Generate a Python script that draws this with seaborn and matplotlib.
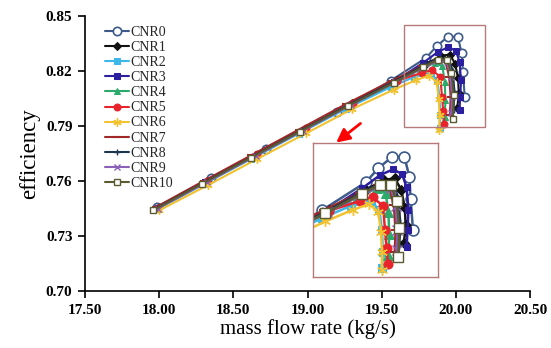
import matplotlib
matplotlib.use("Agg")
import matplotlib.pyplot as plt
import seaborn as sns
from matplotlib.patches import Rectangle, FancyArrowPatch

sns.set_theme(style="white")
plt.rcParams['font.family'] = ['Liberation Serif', 'DejaVu Serif']

names = ["CNR0", "CNR1", "CNR2", "CNR3", "CNR4", "CNR5", "CNR6", "CNR7", "CNR8", "CNR9", "CNR10"]

x_cnr0 = [17.985, 18.35, 18.72, 19.196, 19.56, 19.80, 19.87, 19.946, 20.013, 20.04, 20.047, 20.06]
y_cnr0 = [0.7458, 0.7618, 0.7775, 0.7975, 0.8147, 0.8272, 0.8335, 0.8387, 0.8387, 0.8297, 0.8197, 0.8060]

x_cnr1 = [17.99, 18.32, 18.65, 18.98, 19.30, 19.60, 19.80, 19.90, 19.96, 19.995, 20.015, 20.02, 20.01]
y_cnr1 = [0.7455, 0.7598, 0.7742, 0.7885, 0.8024, 0.8150, 0.8238, 0.8283, 0.8290, 0.8240, 0.8160, 0.8080, 0.8000]

x_cnr2 = [17.995, 18.30, 18.62, 18.94, 19.26, 19.56, 19.72, 19.83, 19.875, 19.89, 19.895, 19.89]
y_cnr2 = [0.7448, 0.7582, 0.7720, 0.7858, 0.7994, 0.8112, 0.8168, 0.8188, 0.8150, 0.8060, 0.7960, 0.7890]

x_cnr3 = [17.99, 18.31, 18.63, 18.95, 19.27, 19.58, 19.78, 19.88, 19.95, 20.00, 20.025, 20.035, 20.03, 20.025]
y_cnr3 = [0.7452, 0.7593, 0.7732, 0.7870, 0.8010, 0.8140, 0.8245, 0.8305, 0.8330, 0.8310, 0.8250, 0.8150, 0.8060, 0.7985]

x_cnr4 = [17.99, 18.31, 18.64, 18.96, 19.28, 19.58, 19.76, 19.86, 19.91, 19.925, 19.93, 19.925]
y_cnr4 = [0.7452, 0.7592, 0.7735, 0.7872, 0.8010, 0.8132, 0.8210, 0.8245, 0.8225, 0.8140, 0.8040, 0.7950]

x_cnr5 = [17.99, 18.32, 18.66, 18.99, 19.31, 19.60, 19.77, 19.84, 19.895, 19.907, 19.915, 19.923]
y_cnr5 = [0.7454, 0.7598, 0.7745, 0.7888, 0.8027, 0.8145, 0.8190, 0.8205, 0.8168, 0.8060, 0.7980, 0.7910]

x_cnr6 = [18.0, 18.33, 18.66, 18.99, 19.30, 19.58, 19.73, 19.82, 19.87, 19.885, 19.89, 19.888]
y_cnr6 = [0.7440, 0.7578, 0.7720, 0.7860, 0.7992, 0.8098, 0.8150, 0.8175, 0.8140, 0.8050, 0.7960, 0.7880]

x_cnr7 = [17.98, 18.30, 18.62, 18.94, 19.26, 19.57, 19.77, 19.87, 19.93, 19.955, 19.965, 19.96]
y_cnr7 = [0.7458, 0.7600, 0.7740, 0.7880, 0.8020, 0.8148, 0.8225, 0.8260, 0.8250, 0.8170, 0.8060, 0.7960]

x_cnr8 = [17.985, 18.31, 18.64, 18.96, 19.28, 19.59, 19.79, 19.89, 19.95, 19.98, 19.99, 19.985]
y_cnr8 = [0.7453, 0.7595, 0.7738, 0.7877, 0.8016, 0.8145, 0.8232, 0.8272, 0.8270, 0.8200, 0.8090, 0.7990]

x_cnr9 = [17.99, 18.32, 18.65, 18.97, 19.29, 19.59, 19.78, 19.88, 19.94, 19.965, 19.975, 19.97]
y_cnr9 = [0.7450, 0.7593, 0.7737, 0.7875, 0.8013, 0.8138, 0.8218, 0.8255, 0.8248, 0.8165, 0.8060, 0.7970]

x_cnr10 = [17.958, 18.29, 18.62, 18.95, 19.27, 19.58, 19.78, 19.88, 19.94, 19.97, 19.985, 19.98]
y_cnr10 = [0.7440, 0.7585, 0.7728, 0.7870, 0.8008, 0.8135, 0.8222, 0.8262, 0.8262, 0.8190, 0.8070, 0.7940]

xs = [x_cnr0, x_cnr1, x_cnr2, x_cnr3, x_cnr4, x_cnr5, x_cnr6, x_cnr7, x_cnr8, x_cnr9, x_cnr10]
ys = [y_cnr0, y_cnr1, y_cnr2, y_cnr3, y_cnr4, y_cnr5, y_cnr6, y_cnr7, y_cnr8, y_cnr9, y_cnr10]

x_ticks = [17.50, 18.00, 18.50, 19.00, 19.50, 20.00, 20.50]
y_ticks = [0.70, 0.73, 0.76, 0.79, 0.82, 0.85]

colors = ['#3D5A8A', '#111111', '#3DB7E8', '#2B1FA0', '#2DAA6B', '#E8232B',
          '#F2C230', '#A02828', '#1E3550', '#8A60B8', '#5B5A30']
asterisk = (6, 2, 0)
styles = [
    dict(marker='o', markersize=6, markerfacecolor='white', markeredgewidth=1.2),
    dict(marker='D', markersize=4),
    dict(marker='s', markersize=4.5),
    dict(marker='s', markersize=3.8),
    dict(marker='^', markersize=5),
    dict(marker='o', markersize=5),
    dict(marker=asterisk, markersize=6, markeredgewidth=1),
    dict(marker='_', markersize=6, markeredgewidth=1.5),
    dict(marker='+', markersize=4.5, markeredgewidth=1),
    dict(marker='x', markersize=5, markeredgewidth=1),
    dict(marker='s', markersize=5, markerfacecolor='white', markeredgewidth=1),
]

W, H = 551, 348
fig = plt.figure(figsize=(W / 100, H / 100), dpi=100)
ax = fig.add_axes([85 / W, 1 - 291 / H, (530 - 85) / W, (291 - 16) / H])


def draw(axis, with_label, scale, lw):
    for i in range(len(names)):
        st = dict(styles[i])
        st['markersize'] = st['markersize'] * scale
        st.setdefault('markeredgecolor', colors[i])
        st.setdefault('markerfacecolor', colors[i])
        sns.lineplot(x=xs[i], y=ys[i], sort=False, estimator=None, color=colors[i],
                     linewidth=lw, label=names[i] if with_label else None,
                     legend=False, ax=axis, **st)


draw(ax, True, 1.0, 1.5)
ax.set_xlim(17.5, 20.5)
ax.set_ylim(0.70, 0.85)
ax.set_xticks(x_ticks)
ax.set_yticks(y_ticks)
ax.set_xticklabels([f"{v:.2f}" for v in x_ticks], fontweight='bold', fontsize=11)
ax.set_yticklabels([f"{v:.2f}" for v in y_ticks], fontweight='bold', fontsize=11)
for s in ['top', 'right']:
    ax.spines[s].set_visible(False)
for s in ['left', 'bottom']:
    ax.spines[s].set_color('black')
    ax.spines[s].set_linewidth(1.2)
ax.tick_params(axis='both', direction='out', length=5, width=1.2, color='black',
               left=True, bottom=True, pad=4, labelcolor='black')
ax.set_xlabel("mass flow rate (kg/s)", fontsize=15, labelpad=2, color='black')
ax.set_ylabel("efficiency", fontsize=16.5, labelpad=4, color='black')

leg = ax.legend(loc='upper left', bbox_to_anchor=(105 / W, 1 - 26 / H),
                bbox_transform=fig.transFigure, frameon=False, fontsize=10,
                labelspacing=0.15, handlelength=1.7, handletextpad=0.15,
                borderpad=0, borderaxespad=0)

# highlight box around the choke region
ax.add_patch(Rectangle((19.65, 0.7895), 0.545, 0.0556, fill=False,
                       edgecolor='#B77A7A', linewidth=1, clip_on=False, zorder=5))

# magnified inset
ins = fig.add_axes([313 / W, 1 - 277 / H, 125 / W, 134 / H])
draw(ins, False, 1.3, 1.8)
ins.set_xlim(19.512, 20.197)
ins.set_ylim(0.785, 0.8448)
ins.set_xticks([])
ins.set_yticks([])
ins.set_xlabel('')
ins.set_ylabel('')
for s in ins.spines.values():
    s.set_visible(True)
    s.set_color('#B77A7A')
    s.set_linewidth(1)
ins.set_facecolor('white')

# red arrow
fig.patches.append(FancyArrowPatch(
    (362.7 / W, 1 - 121.7 / H), (334 / W, 1 - 144.3 / H),
    transform=fig.transFigure, arrowstyle='-|>', mutation_scale=20,
    color='red', linewidth=2))

fig.savefig("out.png", dpi=100, facecolor='white')
